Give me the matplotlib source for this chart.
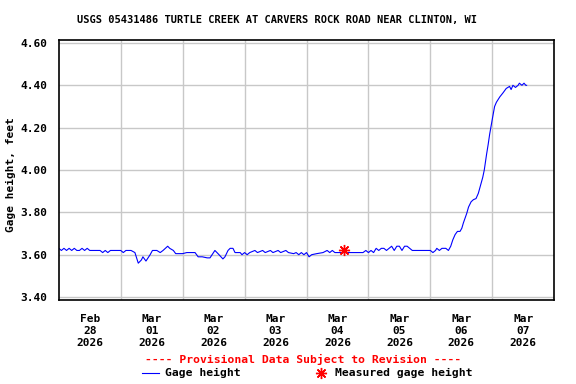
import numpy as np
import matplotlib
matplotlib.use("Agg")
import matplotlib.pyplot as plt

plt.rcParams['font.family'] = ['DejaVu Sans Mono']
plt.rcParams['font.weight'] = 'bold'
plt.rcParams['font.size'] = 8

title = "USGS 05431486 TURTLE CREEK AT CARVERS ROCK ROAD NEAR CLINTON, WI"

# hours after 2026-02-28 00:00 and gage height (ft)
hours = [0, 1, 2, 3, 4, 5, 6, 7, 8, 9, 10, 11, 12, 14, 16, 17, 18, 19, 20, 22,
         24, 25, 26, 27, 28, 29.5, 30.8, 32, 32.6, 33.8, 35.4, 36.3, 38, 39.3, 40.4,
         42.2, 43, 44.4, 45.3, 48, 49.6, 51.6, 52.8, 54, 55.6, 57.5, 58.6, 59.4, 60.5,
         61.7, 63.2, 63.6, 64.4, 65.6, 66.4, 67.5, 68.3, 70.3, 71, 72, 73, 74,
         76, 77, 79, 80, 82, 83, 85, 86, 88, 89, 91, 92, 93, 94, 95, 96, 97, 98,
         100, 102.4, 104, 105, 106, 107, 108.6, 110.6, 112, 115, 117.9, 119, 120,
         121, 122, 123, 124, 125, 126, 127, 128, 129, 130, 131, 132, 133, 134, 135,
         136, 137, 140, 142, 144, 145, 146, 146.5, 147.5, 148.5, 150, 151, 151.9,
         152.7, 153.6, 154.5, 155.5, 156.2, 156.8, 158.1, 158.8, 159.8, 160.7, 161.7,
         162.6, 163.5, 164.3, 164.9, 165.8, 166.4, 167, 167.7, 168.3, 168.9, 169.6,
         170.9, 172.2, 173.4, 174.7, 175.3, 176, 177, 178, 178.5, 179.5, 180.3, 181, 181.3]
gage = [3.63, 3.62, 3.63, 3.62, 3.63, 3.62, 3.63, 3.62, 3.62, 3.63, 3.62, 3.63, 3.62,
        3.62, 3.62, 3.61, 3.62, 3.61, 3.62, 3.62,
        3.62, 3.61, 3.62, 3.62, 3.62, 3.61, 3.56, 3.575, 3.59, 3.57, 3.60, 3.62, 3.62,
        3.61, 3.62, 3.64, 3.63, 3.62, 3.605, 3.605, 3.61, 3.61, 3.61, 3.59, 3.59,
        3.585, 3.585, 3.60, 3.62, 3.605, 3.585, 3.58, 3.59, 3.62, 3.63, 3.63, 3.61,
        3.61, 3.60, 3.61, 3.60, 3.61,
        3.62, 3.61, 3.62, 3.61, 3.62, 3.61, 3.62, 3.61, 3.62, 3.61, 3.605, 3.61, 3.60,
        3.61, 3.60, 3.61, 3.59, 3.60,
        3.605, 3.61, 3.62, 3.61, 3.62, 3.61, 3.61, 3.61, 3.61, 3.61, 3.61, 3.62, 3.61,
        3.62, 3.61, 3.63, 3.62, 3.63, 3.63, 3.62, 3.63, 3.64, 3.62, 3.64, 3.64, 3.62,
        3.64, 3.64, 3.63, 3.62, 3.62, 3.62, 3.62, 3.61, 3.62, 3.63, 3.62, 3.63, 3.63,
        3.62, 3.64,
        3.67, 3.695, 3.71, 3.71, 3.725, 3.75, 3.795, 3.825, 3.85, 3.86, 3.865,
        3.89, 3.93, 3.965, 4.00, 4.075, 4.12, 4.17, 4.22, 4.26, 4.30, 4.32,
        4.345, 4.365, 4.385, 4.395, 4.38, 4.40, 4.39, 4.40, 4.41, 4.40, 4.41, 4.40, 4.40]

# field measurement
meas_hours = [110.6]
meas_gage = [3.62]

start = np.datetime64('2026-02-28T00:00')
t = start + (np.array(hours) * 60).astype(int).astype('timedelta64[m]')
tm = start + (np.array(meas_hours) * 60).astype(int).astype('timedelta64[m]')

day_labels = ["Feb\n28\n2026", "Mar\n01\n2026", "Mar\n02\n2026", "Mar\n03\n2026",
              "Mar\n04\n2026", "Mar\n05\n2026", "Mar\n06\n2026", "Mar\n07\n2026"]
yticks = [3.40, 3.60, 3.80, 4.00, 4.20, 4.40, 4.60]

fig = plt.figure(figsize=(5.76, 3.84), dpi=100)
ax = fig.add_axes([58.8 / 576, 1 - 300 / 384, (554.2 - 58.8) / 576, 260 / 384])

ax.plot(t, gage, color='#0000ff', lw=0.8)
ax.plot(tm, meas_gage, ls='none', marker=(8, 2, 0), ms=8, mew=1, color='#ff0000')

days = start + np.arange(9).astype('timedelta64[D]')
noons = days[:8] + np.timedelta64(12, 'h')
ax.set_xlim(days[0], days[-1])
ax.set_xticks(noons)
ax.set_xticklabels(day_labels, linespacing=1.25)
ax.set_xticks(days[1:-1], minor=True)
ax.grid(True, which='minor', axis='x', color='#c8c8c8', lw=1)

ax.set_ylim(3.386, 4.614)
ax.set_yticks(yticks)
ax.set_yticklabels(["%.2f" % v for v in yticks])
ax.grid(True, which='major', axis='y', color='#c8c8c8', lw=1)
ax.set_axisbelow(True)
ax.tick_params(which='both', length=0)
ax.tick_params(axis='x', pad=10)
ax.tick_params(axis='y', pad=8)
for s in ax.spines.values():
    s.set_linewidth(1.2)

fig.text(11 / 576, 1 - 175 / 384, "Gage height, feet", rotation=90,
         ha='center', va='center')
fig.text(277 / 576, 1 - 20.5 / 384, title, ha='center', va='center', fontsize=7.5)
fig.text(303.5 / 576, 1 - 359 / 384, "---- Provisional Data Subject to Revision ----",
         ha='center', va='center', color='#ff0000', fontsize=8.2)

# legend drawn by hand below the plot
fig.add_artist(plt.Line2D([141.7 / 576, 159.3 / 576], [1 - 372.5 / 384] * 2,
                          color='#0000ff', lw=0.8))
fig.text(165 / 576, 1 - 372.5 / 384, "Gage height", ha='left', va='center', fontsize=8.2)
fig.add_artist(plt.Line2D([321 / 576], [1 - 372.5 / 384], ls='none', marker=(8, 2, 0),
                          ms=8, mew=1, color='#ff0000'))
fig.text(335 / 576, 1 - 372.5 / 384, "Measured gage height", ha='left', va='center',
         fontsize=8.2)

fig.savefig("out.png", dpi=100)
